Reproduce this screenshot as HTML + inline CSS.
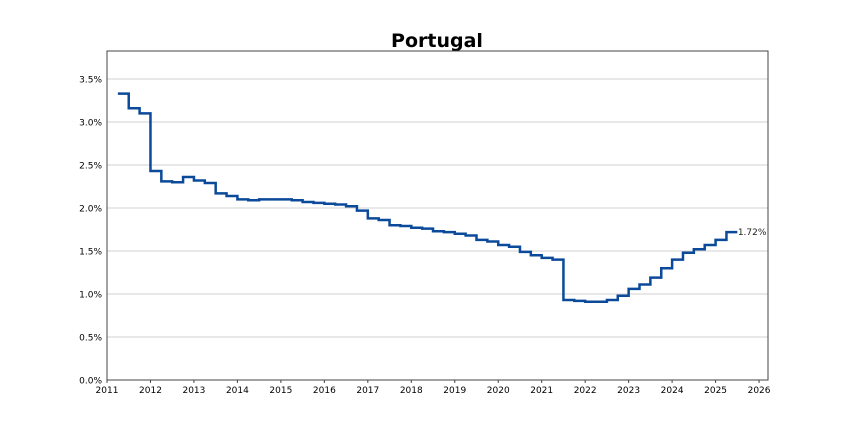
<!DOCTYPE html>
<html><head><meta charset="utf-8"><style>
html,body{margin:0;padding:0;background:#fff;}
svg text{font-family:"DejaVu Sans","Liberation Sans",sans-serif;}
</style></head><body>
<svg id="chart" width="854" height="427" xmlns="http://www.w3.org/2000/svg">
<text x="437" y="47" text-anchor="middle" font-size="19" font-weight="bold">Portugal</text>
<g id="grid"></g>
<rect x="107" y="51" width="661" height="329" fill="none" stroke="#444" stroke-width="1"/>
<g id="axes"></g>
<path id="line" fill="none" stroke="#0b4a9a" stroke-width="2.5"/>
<text id="endlabel" font-size="9" fill="#222"></text>
</svg>
<script>
const startYear = 2011.25;
const stepYears = 0.25;
const values = [3.33,3.16,3.10,2.43,2.31,2.30,2.36,2.32,2.29,2.17,2.14,2.10,2.09,2.10,2.10,2.10,2.09,2.07,2.06,2.05,2.04,2.02,1.97,1.88,1.86,1.80,1.79,1.77,1.76,1.73,1.72,1.70,1.68,1.63,1.61,1.57,1.55,1.49,1.45,1.42,1.40,0.93,0.92,0.91,0.91,0.93,0.98,1.06,1.11,1.19,1.30,1.40,1.48,1.52,1.57,1.63,1.72];
const yTicks = [0,0.5,1,1.5,2,2.5,3,3.5];
const xTicks = [2011,2012,2013,2014,2015,2016,2017,2018,2019,2020,2021,2022,2023,2024,2025,2026];
const X = t => 107 + (t-2011)*43.47;
const Y = v => 380 - v*86;
const NS="http://www.w3.org/2000/svg";
const grid=document.getElementById('grid'), axes=document.getElementById('axes');
yTicks.forEach(v=>{
  const l=document.createElementNS(NS,'line');
  
  
  l.setAttribute('x1',107);l.setAttribute('x2',768);l.setAttribute('y1',Y(v));l.setAttribute('y2',Y(v));
  l.setAttribute('stroke','#d0d0d0');l.setAttribute('stroke-width','1');
  grid.appendChild(l);
  const t=document.createElementNS(NS,'text');
  
  
  t.setAttribute('x',102);t.setAttribute('y',Y(v)+3.5);t.setAttribute('text-anchor','end');t.setAttribute('font-size','9');
  t.textContent=v.toFixed(1)+'%';axes.appendChild(t);
});
xTicks.forEach(y=>{
  const l=document.createElementNS(NS,'line');
  
  
  l.setAttribute('x1',X(y));l.setAttribute('x2',X(y));l.setAttribute('y1',380);l.setAttribute('y2',383);
  l.setAttribute('stroke','#444');axes.appendChild(l);
  const t=document.createElementNS(NS,'text');
  
  
  t.setAttribute('x',X(y));t.setAttribute('y',393);t.setAttribute('text-anchor','middle');t.setAttribute('font-size','9');
  t.textContent=y;axes.appendChild(t);
});
let d='';
values.forEach((v,i)=>{
  const x0=X(startYear+i*stepYears), x1=X(startYear+(i+1)*stepYears);
  d += (i===0?'M':'L')+x0+','+Y(v)+' L'+x1+','+Y(v)+' ';
});
document.getElementById('line').setAttribute('d',d);
const last=values[values.length-1];
const el=document.getElementById('endlabel');
el.setAttribute('x',X(startYear+values.length*stepYears)+0.5);
el.setAttribute('y',Y(last)+3);
el.textContent=last.toFixed(2)+'%';
</script>
</body></html>
